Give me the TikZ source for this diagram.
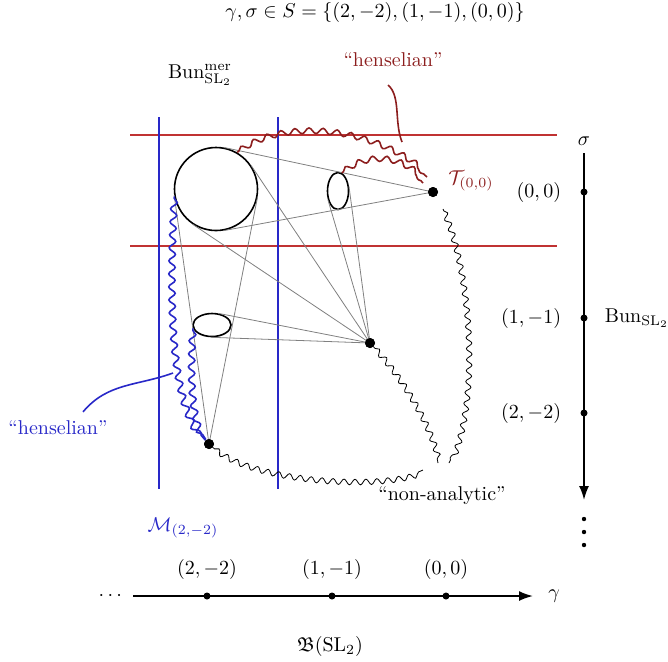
\documentclass[tikz,border=0pt]{standalone}
\usepackage{amsmath, amssymb}
\usepackage{tikz}
\usetikzlibrary{shapes.geometric, arrows.meta, positioning, calc, decorations.pathmorphing}
\definecolor{stratRed}{HTML}{C03232}
\definecolor{henRed}{HTML}{8C1E1E}
\definecolor{henBlue}{HTML}{2828C8}

\begin{document}
\begin{tikzpicture}[
  x=0.5pt, y=0.5pt,
  pt/.style={circle, fill=black, inner sep=0pt, minimum size=5pt},
  axdot/.style={circle, fill=black, inner sep=0pt, minimum size=3.5pt},
  smalldot/.style={circle, fill=black, inner sep=0pt, minimum size=2.2pt},
  nbhd/.style={draw=black, line width=0.8pt, inner sep=0pt},
  cone/.style={gray, line width=0.4pt},
  stratum/.style={line width=0.8pt},
  wavy/.style={decorate, decoration={snake, amplitude=1.4pt, segment length=5.5pt, pre length=1pt, post length=1pt}},
  redwave/.style={wavy, henRed, line width=0.8pt, decoration={amplitude=1.4pt, segment length=7pt}},
  bluewave/.style={wavy, henBlue, line width=0.8pt, decoration={amplitude=1.6pt, segment length=6.5pt}},
  axis/.style={line width=0.9pt, -{Latex[length=7pt, width=5pt]}}
]
  \useasboundingbox (0,0) rectangle (668,-661);

  \node (title) at (375,-12) {$\gamma,\sigma\in S=\{(2,-2),(1,-1),(0,0)\}$};
  \node (bunmer) at (200,-75) {$\mathrm{Bun}^{\mathrm{mer}}_{\mathrm{SL}_2}$};

  % strata
  \draw[stratum, stratRed] (130,-135) -- (557,-135);
  \draw[stratum, stratRed] (130,-246) -- (557,-246);
  \draw[stratum, henBlue] (159,-117) -- (159,-489);
  \draw[stratum, henBlue] (278,-117) -- (278,-489);

  % neighbourhoods and points
  \node[nbhd, circle, minimum size=41.5pt] (C) at (216,-189) {};
  \node[nbhd, ellipse, minimum width=10.5pt, minimum height=18.5pt] (E1) at (338,-191) {};
  \node[nbhd, ellipse, minimum width=19pt, minimum height=11.5pt] (E2) at (212,-325) {};
  \node[pt] (T) at (433,-192) {};
  \node[pt] (M) at (370,-343) {};
  \node[pt] (L) at (209,-444) {};

  \foreach \p in {T,M,L} {
    \draw[cone] (\p.center) -- (tangent cs:node=C, point={(\p)}, solution=1);
    \draw[cone] (\p.center) -- (tangent cs:node=C, point={(\p)}, solution=2);
  }
  \draw[cone] (M.center) -- (E1.23);
  \draw[cone] (M.center) -- (E1.-138);
  \draw[cone] (M.center) -- (E2.62);
  \draw[cone] (M.center) -- (E2.-96);
  \foreach \p in {T,M,L} \node[pt] at (\p) {};

  % henselian (red)
  \node[henRed] (hr) at (393,-60) {``henselian''};
  \node[henRed] (Tlab) at (471,-181) {$\mathcal{T}_{(0,0)}$};
  \coordinate (hrA) at (388,-85);
  \coordinate (hrB) at (402,-142);
  \coordinate (hw1) at (427,-177);
  \coordinate (hw2) at (423,-183);
  \draw[henRed, line width=0.8pt] (hrA) .. controls (401,-96) and (394,-122) .. (hrB);
  \draw[redwave] (C.60) .. controls (285,-118) and (375,-130) .. (hw1);
  \draw[redwave] (E1.78) .. controls (360,-158) and (395,-152) .. (hw2);

  % henselian (blue)
  \node[henBlue] (hb) at (58,-428) {``henselian''};
  \node[henBlue] (Mlab) at (183,-528) {$\mathcal{M}_{(2,-2)}$};
  \coordinate (hbEnd) at (173,-373);
  \draw[henBlue, line width=0.8pt] ($(hb.north)+(25,2)$) to[out=50, in=-160] (hbEnd);
  \draw[bluewave] (C.-170) .. controls (170,-290) and (168,-400) .. (L);
  \draw[bluewave] (E2.190) .. controls (190,-380) and (192,-420) .. (L);

  % non-analytic
  \node (na) at (442,-496) {``non-analytic''};
  \coordinate (na1) at (423,-470);
  \coordinate (na2) at (438,-463);
  \coordinate (na3) at (443,-209);
  \coordinate (na4) at (449,-463);
  \draw[wavy] (L) .. controls (250,-480) and (380,-490) .. (na1);
  \draw[wavy] (M) .. controls (395,-370) and (430,-420) .. (na2);
  \draw[wavy] (na3) .. controls (470,-270) and (480,-400) .. (na4);

  % sigma axis
  \coordinate (sTop) at (584,-153);
  \coordinate (sBot) at (584,-500);
  \draw[axis] (sTop) -- (sBot);
  \node[above=0pt of sTop] (sigma) {$\sigma$};
  \node[axdot, label={[label distance=6pt]left:$(0,0)$}] (s0) at (584,-192) {};
  \node[axdot, label={[label distance=6pt]left:$(1,-1)$}, label={[label distance=5pt]right:$\mathrm{Bun}_{\mathrm{SL}_2}$}] (s1) at (584,-318) {};
  \node[axdot, label={[label distance=6pt]left:$(2,-2)$}] (s2) at (584,-413) {};
  \foreach \y [count=\i] in {519,532,545} \node[smalldot] (sv\i) at (584,-\y) {};

  % gamma axis
  \coordinate (gLeft) at (133,-596);
  \coordinate (gRight) at (533,-596);
  \draw[axis] (gLeft) -- (gRight);
  \node (gamma) at (554,-596) {$\gamma$};
  \node (gdots) at (112,-596) {$\cdots$};
  \node[axdot, label={[label distance=3pt]above:$(2,-2)$}] (g2) at (207,-596) {};
  \node[axdot, label={[label distance=3pt]above:$(1,-1)$}] (g1) at (332,-596) {};
  \node[axdot, label={[label distance=3pt]above:$(0,0)$}] (g0) at (446,-596) {};
  \node (frakB) at (330,-646) {$\mathfrak{B}(\mathrm{SL}_2)$};
\end{tikzpicture}
\end{document}
